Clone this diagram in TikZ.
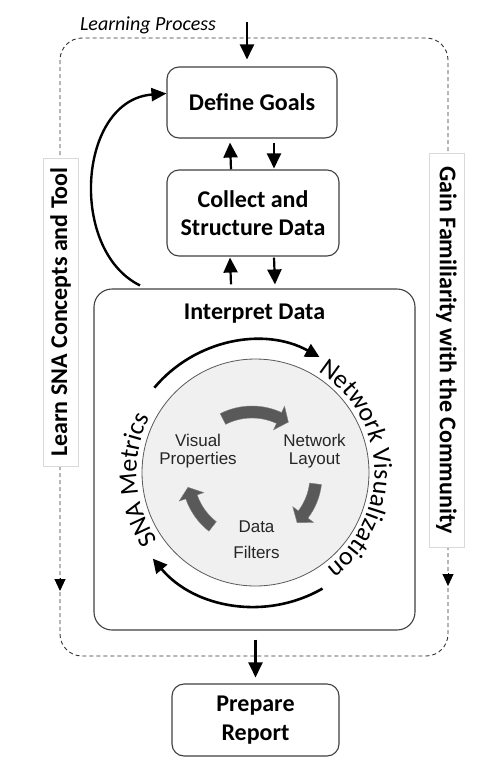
\documentclass[tikz,border=0pt]{standalone}
\usepackage{fontspec}
\setmainfont{Carlito}
\newfontfamily\arialf{Liberation Sans}
\usetikzlibrary{arrows.meta,decorations.text,calc}
\newcommand\curvefont{\fontsize{26}{30}\selectfont}
\newcommand\bentarrow[3]{%
  \fill[grayarrow] ($(ic)+(#1:70pt)$) arc[start angle=#1, end angle=#2, radius=70pt]
    -- ($(ic)+(#2:77pt)$) -- ($(ic)+(#3:65pt)$) -- ($(ic)+(#2:51pt)$) -- ($(ic)+(#2:58pt)$)
    arc[start angle=#2, end angle=#1, radius=58pt] -- cycle;}
\begin{document}
\begin{tikzpicture}[x=1pt,y=1pt,
  box/.style={draw=black!75, line width=1.1pt, rounded corners=12pt, fill=white, align=center,
    font=\bfseries\fontsize{24}{28.5}\selectfont, inner sep=0pt},
  lbl/.style={draw=black!15, line width=0.8pt, fill=white, inner sep=0pt, minimum height=35pt,
    font=\bfseries\fontsize{24}{28}\selectfont},
  arr/.style={line width=2.2pt, -{Triangle[length=15pt,width=14pt]}},
  arcarr/.style={line width=2.6pt, -{Triangle[length=14pt,width=14pt]}},
  dashtip/.style={line width=1pt, -{Triangle[length=12pt,width=11pt]}},
  frame/.style={draw=black!80, line width=0.9pt, dash pattern=on 4pt off 3pt, rounded corners=22pt},
  inner/.style={align=center, font=\arialf\fontsize{17}{18.5}\selectfont, text=black!85},
  grayarrow/.style={fill=black!65, draw=black!50, line width=0.4pt}
]
\useasboundingbox (0,0) rectangle (497,-766);

% dashed learning-process frame
\draw[frame] (60,-38) rectangle (448,-656);
\node[font=\itshape\fontsize{20}{22}\selectfont] (lp) at (148,-25) {Learning Process};

% side labels
\node[lbl, rotate=90, minimum width=308pt] (learn) at (60.5,-312) {Learn SNA Concepts and Tool};
\node[lbl, rotate=-90, minimum width=394pt] (gain) at (446.5,-350) {Gain Familiarity with the Community};
\coordinate (la) at (60,-578);
\coordinate (lb) at (60,-591);
\coordinate (ra) at (448,-573);
\coordinate (rb) at (448,-586);
\draw[dashtip] (la) -- (lb);
\draw[dashtip] (ra) -- (rb);

% boxes
\node[box, minimum width=170pt, minimum height=71pt] (dg) at (252,-102.5) {Define Goals};
\node[box, minimum width=172pt, minimum height=86pt] (csd) at (253,-213) {Collect and\\Structure Data};
\node[box, rounded corners=18pt, minimum width=321pt, minimum height=341pt] (id) at (254.5,-459.5) {};
\node[font=\bfseries\fontsize{24}{28}\selectfont] (idt) at (254.5,-314) {Interpret Data};
\node[box, minimum width=167pt, minimum height=72pt] (pr) at (255.5,-720) {Prepare\\Report};

% straight arrows
\coordinate (top) at (247,-22);
\draw[arr, shorten >=7pt] (top) -- (top |- dg.north);
\draw[arr] ([xshift=-22pt]csd.north) -- ([xshift=-22pt,yshift=-4pt]dg.south);
\draw[arr] ([xshift=22pt,yshift=-4pt]dg.south) -- ([xshift=21pt,yshift=1pt]csd.north);
\draw[arr] ([xshift=-23.5pt,yshift=4pt]id.north) -- ([xshift=-23pt,yshift=-1pt]csd.south);
\draw[arr] ([xshift=21pt,yshift=-1pt]csd.south) -- ([xshift=20.5pt,yshift=4pt]id.north);
\draw[arr] ([xshift=1pt,yshift=-9pt]id.south) -- ([yshift=6pt]pr.north);

% curved feedback arrow
\draw[line width=2.4pt, -{Triangle[length=15pt,width=13pt]}]
  ([xshift=-114.5pt,yshift=3pt]id.north) .. controls (68,-250) and (78,-100) .. ([yshift=9pt]dg.west);

% circle of the interpretation cycle
\coordinate (cc) at (255.5,-472.5);
\node[circle, draw=black!65, fill=black!6, line width=0.8pt, minimum size=227pt, inner sep=0pt] (circ) at (cc) {};

\draw[arcarr] ($(cc)+(140:132pt)$) arc[start angle=140, end angle=61, radius=132pt];
\draw[arcarr] ($(cc)+(-60:134pt)$) arc[start angle=-60, end angle=-140, radius=134pt];

\path[font=\curvefont, decorate, decoration={text along path, text={|\curvefont|Network Visualization}, text align=center}]
  ($(cc)+(58:119pt)$) arc[start angle=58, end angle=-53, radius=119pt];
\path[font=\curvefont, decorate, decoration={text along path, text={|\curvefont|SNA Metrics}, text align=center}]
  ($(cc)+(216:119pt)$) arc[start angle=216, end angle=151, radius=119pt];

% inner gray arrows
\coordinate (ic) at (252,-476);
\bentarrow{117}{65}{56}
\bentarrow{-7}{-37}{-46}
\bentarrow{-128}{-161}{-170}

\node[inner] (vp) at (198,-451) {Visual\\Properties};
\node[inner] (nl) at (314.5,-451) {Network\\Layout};
\node[inner, font=\arialf\fontsize{17}{26}\selectfont] (df) at (256.5,-540) {Data\\Filters};
\end{tikzpicture}
\end{document}
